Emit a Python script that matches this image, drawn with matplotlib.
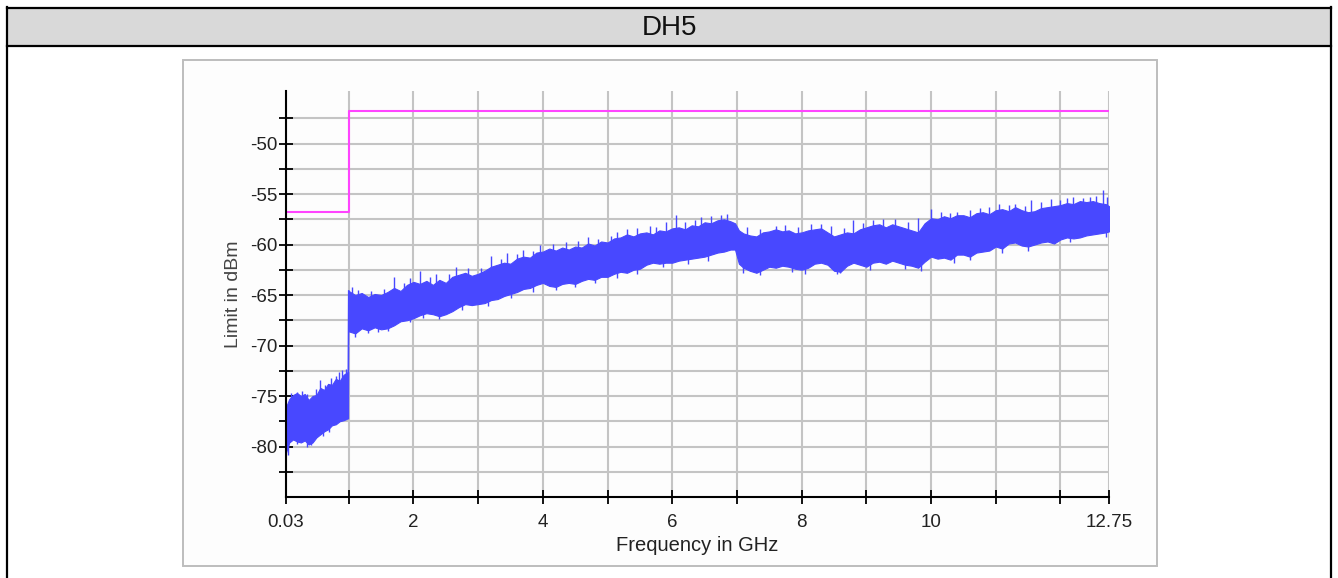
import numpy as np
import matplotlib
matplotlib.use("Agg")
import matplotlib.pyplot as plt
from matplotlib.patches import Rectangle

plt.rcParams['font.family'] = ['Liberation Sans', 'DejaVu Sans']

# limit line (dBm)
limit_f = [0.03, 1.0, 1.0, 12.75]
limit_db = [-56.8, -56.8, -46.8, -46.8]

# measured trace, read as lower / upper envelope of the noise band
seg1_f = [0.03, 0.08, 0.14, 0.2, 0.26, 0.32, 0.38, 0.44, 0.5, 0.56, 0.62,
          0.68, 0.74, 0.8, 0.86, 0.92, 0.99]
seg1_hi = [-76.1, -75.3, -74.9, -74.7, -75.0, -74.8, -75.4, -75.0, -74.9, -74.2,
           -74.4, -73.8, -73.9, -73.3, -73.5, -72.9, -72.6]
seg1_lo = [-80.6, -79.6, -79.3, -79.5, -79.6, -79.4, -79.8, -79.6, -79.1, -78.8,
           -78.5, -78.3, -77.9, -77.8, -77.5, -77.4, -77.2]

seg2_f = [1.0, 1.1, 1.2, 1.3, 1.4, 1.5, 1.6, 1.7, 1.8, 1.9,
          2.0, 2.1, 2.2, 2.3, 2.4, 2.5, 2.6, 2.7, 2.8, 2.9,
          3.0, 3.1, 3.2, 3.3, 3.4, 3.5, 3.6, 3.7, 3.8, 3.9,
          4.0, 4.1, 4.2, 4.3, 4.4, 4.5, 4.6, 4.7, 4.8, 4.9,
          5.0, 5.1, 5.2, 5.3, 5.4, 5.5, 5.6, 5.7, 5.8, 5.9,
          6.0, 6.1, 6.2, 6.3, 6.4, 6.5, 6.6, 6.7, 6.8, 6.9,
          6.97, 7.03, 7.1, 7.2, 7.3, 7.4, 7.5, 7.6, 7.7, 7.8, 7.9,
          8.0, 8.1, 8.2, 8.3, 8.4, 8.5, 8.6, 8.7, 8.8, 8.9,
          9.0, 9.1, 9.2, 9.3, 9.4, 9.5, 9.6, 9.7, 9.8, 9.9,
          10.0, 10.1, 10.2, 10.3, 10.4, 10.5, 10.6, 10.7, 10.8, 10.9,
          11.0, 11.1, 11.2, 11.3, 11.4, 11.5, 11.6, 11.7, 11.8, 11.9,
          12.0, 12.1, 12.2, 12.3, 12.4, 12.5, 12.6, 12.7, 12.75]
seg2_hi = [-64.6, -65.0, -64.8, -65.2, -64.9, -65.0, -64.7, -64.3, -64.6, -64.0,
           -63.7, -63.9, -63.6, -64.0, -63.5, -63.8, -63.2, -63.0, -62.8, -63.1,
           -62.9, -62.6, -62.2, -62.0, -61.8, -61.9, -61.4, -61.2, -61.3, -60.8,
           -60.7, -60.4, -60.6, -60.3, -60.5, -60.2, -60.3, -59.9, -60.1, -59.7,
           -59.8, -59.4, -59.3, -59.0, -59.2, -58.9, -58.8, -59.0, -58.6, -58.7,
           -58.4, -58.3, -58.5, -58.1, -58.2, -57.8, -57.9, -57.6, -57.5, -57.7,
           -57.9, -58.6, -58.9, -59.1, -59.2, -58.8, -58.7, -58.5, -58.7, -58.6, -58.9,
           -58.8, -58.6, -58.5, -58.4, -58.8, -59.2, -59.0, -58.8, -58.9, -58.5,
           -58.3, -58.1, -58.0, -58.3, -58.0, -58.2, -58.4, -58.6, -58.8, -57.9,
           -57.4, -57.5, -57.2, -57.4, -57.1, -57.1, -57.3, -56.9, -56.8, -57.0,
           -56.6, -56.5, -56.7, -56.3, -56.6, -56.8, -56.7, -56.4, -56.3, -56.2,
           -56.1, -55.9, -56.0, -55.7, -55.8, -55.7, -55.9, -56.0, -56.2]
seg2_lo = [-68.6, -68.8, -68.3, -68.5, -68.2, -68.4, -68.3, -68.0, -67.6, -67.5,
           -67.3, -67.0, -66.8, -66.9, -67.1, -66.9, -66.6, -66.2, -65.9, -66.0,
           -65.9, -65.8, -65.5, -65.4, -65.1, -64.9, -64.7, -64.4, -64.3, -64.0,
           -63.8, -64.1, -64.2, -63.9, -63.8, -63.9, -63.6, -63.4, -63.5, -63.2,
           -63.2, -62.9, -62.7, -62.8, -62.5, -62.4, -62.0, -61.8, -61.9, -61.8,
           -61.8, -61.6, -61.5, -61.4, -61.3, -61.2, -61.0, -60.8, -60.7, -60.5,
           -60.5, -61.9, -62.3, -62.6, -62.8, -62.5, -62.2, -62.3, -62.1, -62.2, -62.4,
           -62.5, -62.3, -61.9, -61.8, -62.0, -62.6, -62.7, -62.1, -61.8, -62.0,
           -62.2, -61.8, -61.7, -61.9, -61.6, -61.8, -62.0, -62.1, -62.3, -61.7,
           -61.2, -61.4, -61.3, -61.5, -61.0, -61.0, -61.2, -60.8, -60.7, -60.6,
           -60.2, -60.4, -59.9, -59.8, -60.1, -60.2, -60.0, -59.8, -59.7, -59.9,
           -59.5, -59.3, -59.4, -59.3, -59.1, -59.0, -58.9, -58.8, -58.7]

# isolated peaks and dips sticking out of the band
peak_f = [0.1, 0.2, 0.28, 0.36, 0.5, 0.55, 0.64, 0.72, 0.8, 0.85, 0.9, 0.95,
          1.05, 1.15, 1.35, 1.55, 1.7, 1.85, 1.95, 2.1, 2.25, 2.35, 2.55, 2.65,
          2.85, 3.05, 3.2, 3.35, 3.45, 3.6, 3.7, 3.85, 3.95, 4.15, 4.35, 4.55,
          4.7, 4.85, 5.05, 5.15, 5.3, 5.45, 5.65, 5.75, 5.9, 6.05, 6.2, 6.35,
          6.45, 6.6, 6.75, 6.85, 7.15, 7.35, 7.6, 7.75, 7.95, 8.15, 8.3, 8.45,
          8.65, 8.8, 8.95, 9.1, 9.25, 9.45, 9.65, 9.8, 10.0, 10.15, 10.3, 10.4,
          10.6, 10.75, 10.9, 11.05, 11.2, 11.3, 11.45, 11.55, 11.7, 11.85, 12.0,
          12.1, 12.2, 12.35, 12.45, 12.55, 12.65, 12.72]
peak_db = [-74.7, -74.6, -74.5, -74.8, -74.3, -73.4, -73.9, -73.2, -73.0, -72.6,
           -72.4, -72.3, -64.2, -64.5, -64.6, -64.4, -63.2, -63.8, -63.3, -62.6,
           -63.2, -62.9, -62.9, -62.2, -62.3, -62.3, -61.1, -61.4, -60.8, -60.9,
           -60.5, -60.6, -60.0, -59.9, -59.8, -59.7, -59.3, -59.5, -59.2, -58.8,
           -58.5, -58.4, -58.2, -58.3, -57.8, -57.1, -57.8, -57.6, -57.3, -57.2,
           -57.1, -57.0, -58.3, -58.5, -58.2, -58.1, -58.3, -58.0, -58.0, -58.2,
           -58.4, -57.6, -57.9, -57.6, -57.5, -57.5, -57.8, -57.4, -56.5, -56.8,
           -56.9, -56.8, -56.6, -56.4, -56.3, -56.0, -56.1, -56.0, -56.2, -55.6,
           -55.8, -55.5, -55.6, -55.4, -55.3, -55.4, -55.3, -55.2, -54.6, -55.3]
dip_f = [0.06, 0.2, 0.35, 0.42, 0.6, 0.7, 1.1, 1.3, 1.45, 1.6, 1.95, 2.15,
         2.4, 2.75, 3.15, 3.5, 3.85, 4.2, 4.5, 4.8, 5.15, 5.45, 5.85, 6.25,
         6.55, 7.1, 7.35, 7.85, 8.05, 8.55, 8.6, 9.05, 9.6, 9.85, 10.35, 10.6,
         11.1, 11.5, 12.15, 12.7]
dip_db = [-80.8, -79.8, -80.0, -79.9, -79.0, -78.6, -69.2, -68.8, -68.7, -68.6,
          -67.7, -67.3, -67.4, -66.5, -66.1, -65.3, -64.7, -64.5, -64.2, -63.8,
          -63.3, -62.9, -62.2, -61.9, -61.6, -62.8, -63.0, -62.7, -62.9, -62.9,
          -62.8, -62.5, -62.4, -62.6, -61.8, -61.5, -60.8, -60.6, -59.8, -59.3]

y_ticks = np.arange(-82.5, -45, 2.5)
x_ticks = [0.03] + list(range(1, 13)) + [12.75]
x_labels = {0.03: "0.03", 2: "2", 4: "4", 6: "6", 8: "8", 10: "10", 12.75: "12.75"}

blue = "#4848FF"
pink = "#FF44FF"

fig = plt.figure(figsize=(13.38, 5.78), dpi=100)
W, H = 1338, 578

# table frame + header
fig.patches.append(Rectangle((7 / W, 1 - 46 / H), 1324 / W, 38 / H, transform=fig.transFigure,
                             facecolor="#D9D9D9", edgecolor="none", zorder=-3))
fig.add_artist(plt.Line2D([7 / W, 7 / W], [0, 1 - 7 / H], color="black", lw=1.6))
fig.add_artist(plt.Line2D([1331 / W, 1331 / W], [0, 1 - 7 / H], color="black", lw=1.6))
fig.add_artist(plt.Line2D([7 / W, 1331 / W], [1 - 7.5 / H, 1 - 7.5 / H], color="black", lw=1.6))
fig.add_artist(plt.Line2D([7 / W, 1331 / W], [1 - 46 / H, 1 - 46 / H], color="black", lw=1.6))
fig.text(669 / W, 1 - 28 / H, "DH5", ha="center", va="center", fontsize=20, color="#111111")

# chart panel
fig.patches.append(Rectangle((183 / W, 1 - 566 / H), 974 / W, 506 / H, transform=fig.transFigure,
                             facecolor="#FDFDFD", edgecolor="#BDBDBD", lw=1.4, zorder=-2))

ax = fig.add_axes([286 / W, 81 / H, 823 / W, 406 / H])
ax.set_facecolor("none")
ax.set_xlim(0.03, 12.75)
ax.set_ylim(-85, -44.8)

ax.set_yticks(y_ticks)
ax.set_yticklabels([f"{v:.0f}" if v % 5 == 0 else "" for v in y_ticks])
ax.set_xticks(x_ticks)
ax.set_xticklabels([x_labels.get(v, "") for v in x_ticks])

ax.grid(True, color="#C4C4C4", lw=1.5)
ax.set_axisbelow(True)
for s in ["top", "right"]:
    ax.spines[s].set_visible(False)
for s in ["left", "bottom"]:
    ax.spines[s].set_linewidth(1.5)
    ax.spines[s].set_zorder(5)
ax.tick_params(direction="inout", length=10, width=1.3, labelsize=13.5,
               labelcolor="#222222")
ax.tick_params(axis="x", pad=7)
ax.tick_params(axis="y", pad=1)

# trace
ax.fill_between(seg1_f, seg1_lo, seg1_hi, color=blue, lw=0.8, zorder=3)
ax.fill_between(seg2_f, seg2_lo, seg2_hi, color=blue, lw=0.8, zorder=3)
ax.plot([seg1_f[-1], seg2_f[0]], [seg1_lo[-1], seg2_hi[0]], color=blue, lw=1.2, zorder=3)
all_f = seg1_f + seg2_f
all_hi = seg1_hi + seg2_hi
all_lo = seg1_lo + seg2_lo
ax.vlines(peak_f, np.interp(peak_f, all_f, all_hi) - 0.5, peak_db, color=blue, lw=1.0, zorder=3)
ax.vlines(dip_f, dip_db, np.interp(dip_f, all_f, all_lo) + 0.5, color=blue, lw=1.0, zorder=3)

# limit
ax.plot(limit_f, limit_db, color=pink, lw=1.5, zorder=4)

ax.set_xlabel("Frequency in GHz", fontsize=14.5, color="#222222", labelpad=4)
ax.set_ylabel("Limit in dBm", fontsize=14, color="#444444", labelpad=6)

fig.savefig("out.png", dpi=100)
